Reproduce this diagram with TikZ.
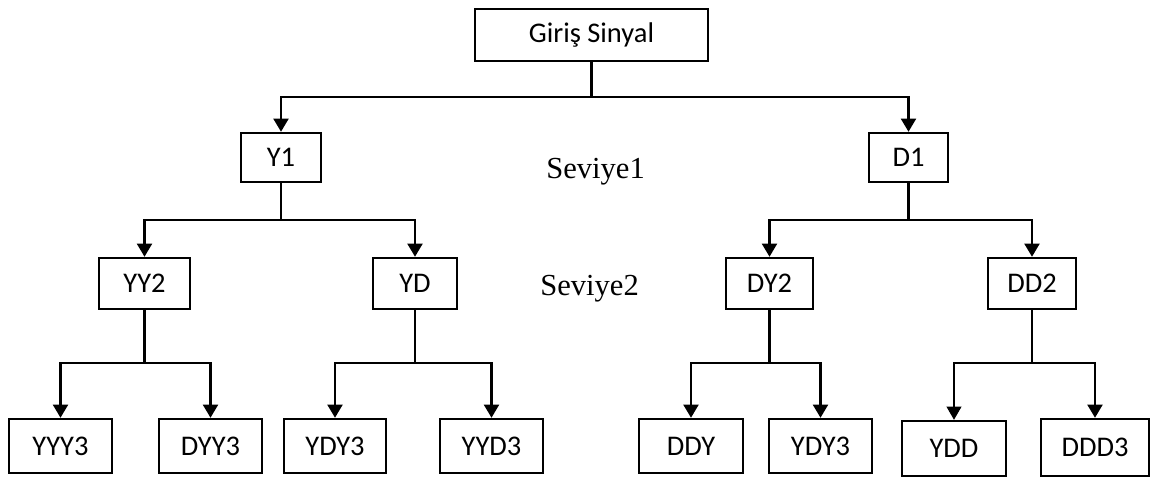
\documentclass[tikz,border=0pt]{standalone}
\usepackage{fontspec}
\setmainfont{Carlito}
\newfontfamily\serifTNR{Liberation Serif}
\usetikzlibrary{arrows.meta}
\begin{document}
\begin{tikzpicture}[x=0.02cm,y=-0.02cm,
  box/.style={draw, line width=1.4pt, fill=white, inner sep=0pt,
    font=\fontsize{16.2}{19}\selectfont},
  conn/.style={line width=1.4pt, -{Triangle[length=7.5pt,width=8.5pt]}},
  thinconn/.style={line width=0.6pt, -{Triangle[length=7.5pt,width=8.5pt]}},
  level/.style={anchor=base west, inner sep=0pt, fill=white,
    font=\serifTNR\fontsize{17.4}{20}\selectfont}]
\useasboundingbox (0,0) rectangle (1154,480);

% nodes
\node[box,minimum width=4.66cm,minimum height=1.04cm] (gs) at (591.5,35) {Giriş Sinyal};
\node[box,minimum width=1.60cm,minimum height=0.98cm] (Y1) at (281,157.5) {Y1};
\node[box,minimum width=1.58cm,minimum height=0.98cm] (D1) at (908.5,157.5) {D1};
\node[box,minimum width=1.82cm,minimum height=1.02cm] (YY2) at (144.5,283.5) {YY2};
\node[box,minimum width=1.68cm,minimum height=1.02cm] (YD) at (415,283.5) {YD};
\node[box,minimum width=1.74cm,minimum height=1.02cm] (DY2) at (769.5,283.5) {DY2};
\node[box,minimum width=1.76cm,minimum height=1.02cm] (DD2) at (1032,283.5) {DD2};
\node[box,minimum width=2.06cm,minimum height=1.08cm] (YYY3) at (60.5,446) {YYY3};
\node[box,minimum width=2.06cm,minimum height=1.08cm] (DYY3) at (210.5,446) {DYY3};
\node[box,minimum width=2.04cm,minimum height=1.08cm] (YDY3a) at (335,446) {YDY3};
\node[box,minimum width=2.06cm,minimum height=1.08cm] (YYD3) at (491.5,446) {YYD3};
\node[box,minimum width=2.08cm,minimum height=1.08cm] (DDY) at (691,446) {DDY};
\node[box,minimum width=2.06cm,minimum height=1.08cm] (YDY3b) at (820.5,446) {YDY3};
\node[box,minimum width=2.08cm,minimum height=1.10cm] (YDD) at (954,448.5) {YDD};
\node[box,minimum width=2.16cm,minimum height=1.14cm] (DDD3) at (1095,447.5) {DDD3};

\node[level] (s1) at (546,178) {Seviye1};
\node[level] (s2) at (540,295) {Seviye2};

% bus levels
\coordinate (b1) at (0,97);
\coordinate (b2) at (0,220);
\coordinate (b3) at (0,363);

% connectors
\draw[conn] (gs.south) -- (gs.south |- b1) -| (Y1.north);
\draw[conn] (gs.south |- b1) -| (D1.north);

\draw[conn] (Y1.south) -- (Y1.south |- b2) -| (YY2.north);
\draw[conn] (Y1.south |- b2) -| (YD.north);
\draw[conn] (D1.south) -- (D1.south |- b2) -| (DY2.north);
\draw[conn] (D1.south |- b2) -| (DD2.north);

\draw[conn] (YY2.south) -- (YY2.south |- b3) -| (YYY3.north);
\draw[conn] (YY2.south |- b3) -| (DYY3.north);
\draw[conn] (YD.south) -- (YD.south |- b3) -| (YDY3a.north);
\draw[conn] (YD.south |- b3) -| (YYD3.north);
\draw[conn] (DY2.south) -- (DY2.south |- b3) -| (DDY.north);
\draw[conn] (DY2.south |- b3) -| (YDY3b.north);
\draw[conn] (DD2.south) -- (DD2.south |- b3) -| (DDD3.north);
\draw[thinconn] (DD2.south |- b3) -| (YDD.north);
\end{tikzpicture}
\end{document}
